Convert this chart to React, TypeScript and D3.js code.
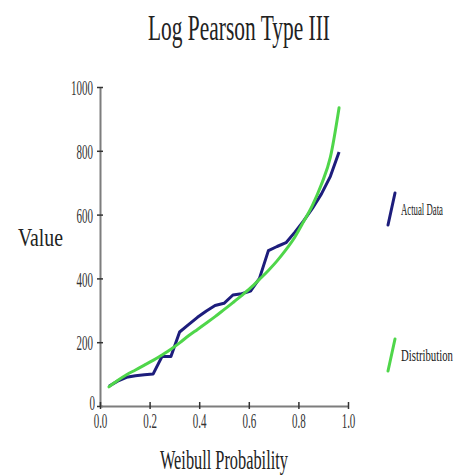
import React, { useEffect, useRef } from "react";
import * as d3 from "d3";

// Weibull plotting positions (m / (n + 1))
const probs = [
  0.036, 0.071, 0.107, 0.143, 0.179, 0.214, 0.25, 0.286, 0.321, 0.357, 0.393,
  0.429, 0.464, 0.5, 0.536, 0.571, 0.607, 0.643, 0.679, 0.714, 0.75, 0.786,
  0.821, 0.857, 0.893, 0.929, 0.964,
];
const actualData = [
  62, 78, 90, 95, 98, 100, 155, 155, 232, 255, 278, 298, 315, 322, 348, 352,
  360, 400, 487, 500, 512, 545, 580, 620, 665, 720, 796,
];
const distribution = [
  60, 80, 98, 113, 128, 143, 160, 178, 198, 220, 240, 260, 280, 302, 324, 346,
  370, 397, 425, 455, 490, 530, 578, 630, 695, 780, 935,
];
const yTicks = [0, 200, 400, 600, 800, 1000];
const xTicks = [0, 0.2, 0.4, 0.6, 0.8, 1.0];
const seriesNames = ["Actual Data", "Distribution"];

const width = 456;
const height = 476;
const serif = "'Liberation Serif', 'DejaVu Serif', serif";

const App = () => {
  const ref = useRef<SVGSVGElement>(null);

  useEffect(() => {
    const svg = d3.select(ref.current);
    svg.selectAll("*").remove();

    const x = d3.scaleLinear().domain([0, 1]).range([100, 348]);
    const y = d3.scaleLinear().domain([0, 1000]).range([406, 87]);

    // squeeze a text horizontally to a given width (the source image is condensed)
    const squeezed = (
      str: string,
      left: number,
      base: number,
      size: number,
      w: number
    ) => {
      const t = svg
        .append("text")
        .attr("font-family", serif)
        .attr("font-size", size)
        .attr("fill", "#222")
        .text(str);
      const natural = (t.node() as SVGTextElement).getComputedTextLength() || w;
      t.attr("transform", `translate(${left},${base}) scale(${w / natural},1)`);
      return t;
    };

    // axes
    const yAxis = svg
      .append("g")
      .attr("transform", "translate(100,0)")
      .call(
        d3
          .axisLeft(y)
          .tickValues(yTicks)
          .tickSize(0)
          .tickPadding(6)
          .tickFormat(d3.format("d"))
      );
    const xAxis = svg
      .append("g")
      .attr("transform", "translate(0,406)")
      .call(
        d3
          .axisBottom(x)
          .tickValues(xTicks)
          .tickSize(0)
          .tickPadding(6)
          .tickFormat(d3.format(".1f"))
      );

    [yAxis, xAxis].forEach((g) => {
      g.select(".domain").attr("stroke", "#7d7d7d").attr("stroke-width", 2);
      g.selectAll("text")
        .attr("fill", "#333")
        .attr("font-family", serif)
        .attr("font-size", 22);
    });
    yAxis.selectAll(".tick line").attr("x1", -3).attr("x2", 3).attr("stroke", "#333").attr("stroke-width", 1.5);
    xAxis.selectAll(".tick line").attr("y1", -4).attr("y2", 3).attr("stroke", "#333").attr("stroke-width", 1.5);
    yAxis.selectAll<SVGTextElement, number>("text")
      .attr("x", null)
      .attr("dy", "0.35em")
      .attr("transform", "translate(-7,0) scale(0.5,1)");
    xAxis.selectAll<SVGTextElement, number>("text")
      .attr("y", null)
      .attr("dy", null)
      .attr("transform", "translate(0,22) scale(0.5,1)");
    yAxis.select(".tick text").attr("transform", "translate(-5,-4) scale(0.5,1)");

    // series
    const lineActual = d3
      .line<number>()
      .x((_, i) => x(probs[i]))
      .y((d) => y(d));
    const lineDist = d3
      .line<number>()
      .x((_, i) => x(probs[i]))
      .y((d) => y(d))
      .curve(d3.curveMonotoneX);

    svg
      .append("path")
      .datum(actualData)
      .attr("fill", "none")
      .attr("stroke", "#1d1d7c")
      .attr("stroke-width", 3)
      .attr("stroke-linejoin", "round")
      .attr("d", lineActual);

    svg
      .append("path")
      .datum(distribution)
      .attr("fill", "none")
      .attr("stroke", "#4fd64a")
      .attr("stroke-width", 3)
      .attr("stroke-linecap", "round")
      .attr("d", lineDist);

    // titles
    squeezed("Log Pearson Type III", 148, 40, 36, 182);
    squeezed("Weibull Probability", 160, 469, 28, 128);
    squeezed("Value", 18, 246, 25, 45);

    // legend
    const legendColors = ["#1d1d7c", "#4fd64a"];
    const legendY = [209, 355];
    const legendW = [42, 52];
    seriesNames.forEach((name, i) => {
      const cy = legendY[i];
      svg
        .append("line")
        .attr("x1", 395)
        .attr("y1", cy - 16)
        .attr("x2", 388)
        .attr("y2", cy + 16)
        .attr("stroke", legendColors[i])
        .attr("stroke-width", 3)
        .attr("stroke-linecap", "round");
      squeezed(name, 401, cy + 6, 17, legendW[i]);
    });
  }, []);

  return (
    <svg
      ref={ref}
      width={width}
      height={height}
      style={{ position: "absolute", left: 0, top: 0, background: "#fff" }}
    />
  );
};

export default App;
